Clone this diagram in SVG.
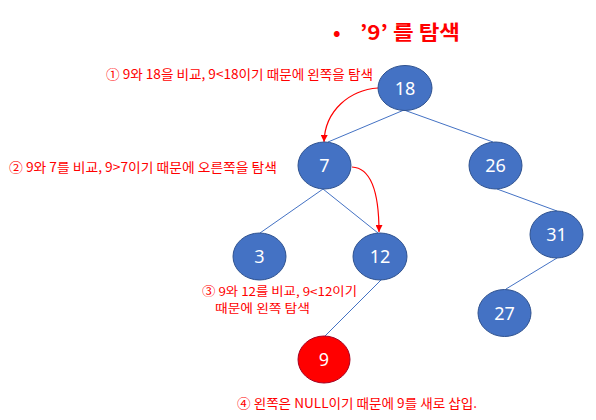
<svg xmlns="http://www.w3.org/2000/svg" width="596" height="420" viewBox="0 0 596 420">
  <defs>
    <marker id="arr" viewBox="0 0 10 10" refX="10" refY="5" markerWidth="7" markerHeight="7" orient="auto" markerUnits="userSpaceOnUse">
      <path d="M0,0 L10,5 L0,10 z" fill="#FF0000"/>
    </marker>
    <style>
      .node { fill: #4472C4; stroke: #2F528F; stroke-width: 1; }
      .new { fill: #FF0000; stroke: #A50021; stroke-width: 1; }
      .lbl { font-family: "Noto Sans", "Liberation Sans", sans-serif; font-size: 18px; fill: #FFFFFF; text-anchor: middle; }
      .edge { stroke: #4472C4; stroke-width: 1; fill: none; }
      .path { stroke: #FF0000; stroke-width: 1.2; fill: none; marker-end: url(#arr); }
      .note { font-family: "Noto Sans CJK KR", "Noto Sans", sans-serif; font-size: 13px; fill: #FF0000; }
      .small { font-size: 12px; }
      .title { font-family: "Noto Sans CJK KR", "Noto Sans", sans-serif; font-size: 20px; font-weight: bold; fill: #FF0000; }
    </style>
  </defs>
  <rect width="596" height="420" fill="#FFFFFF"/>

  <g id="title">
    <text class="title" x="333" y="40">•</text>
    <text class="title" x="360" y="40" textLength="100" lengthAdjust="spacingAndGlyphs">’9’ 를 탐색</text>
  </g>

  <g id="connectors">
    <line class="edge" x1="404" y1="110" x2="328" y2="142"/>
    <line class="edge" x1="404" y1="110" x2="493" y2="142"/>
    <line class="edge" x1="323" y1="189" x2="260" y2="233"/>
    <line class="edge" x1="323" y1="189" x2="378" y2="233"/>
    <line class="edge" x1="497" y1="189" x2="557" y2="211"/>
    <line class="edge" x1="557" y1="258" x2="506" y2="289"/>
    <line class="edge" x1="382" y1="279" x2="325" y2="336"/>
    <path class="path" d="M378,88 C350,90 325,110 324,142"/>
    <path class="path" d="M352,167 C372,168 379,195 379,232"/>
  </g>

  <g id="node-18">
    <ellipse class="node" cx="405" cy="88" rx="27" ry="22.5"/>
    <text class="lbl" x="405" y="94.5">18</text>
  </g>
  <g id="node-7">
    <ellipse class="node" cx="324.5" cy="165.5" rx="26.5" ry="23.5"/>
    <text class="lbl" x="324.5" y="172">7</text>
  </g>
  <g id="node-26">
    <ellipse class="node" cx="495.5" cy="165.5" rx="26.5" ry="23.5"/>
    <text class="lbl" x="495.5" y="172">26</text>
  </g>
  <g id="node-3">
    <ellipse class="node" cx="259.5" cy="256.5" rx="26.5" ry="23.5"/>
    <text class="lbl" x="259.5" y="263">3</text>
  </g>
  <g id="node-12">
    <ellipse class="node" cx="380" cy="256.5" rx="27" ry="23.5"/>
    <text class="lbl" x="380" y="263">12</text>
  </g>
  <g id="node-31">
    <ellipse class="node" cx="556.5" cy="234.5" rx="26.5" ry="23.5"/>
    <text class="lbl" x="556.5" y="241">31</text>
  </g>
  <g id="node-27">
    <ellipse class="node" cx="504.5" cy="313" rx="26.5" ry="23.5"/>
    <text class="lbl" x="504.5" y="319.5">27</text>
  </g>
  <g id="node-9">
    <ellipse class="new" cx="324" cy="359.5" rx="26" ry="23.5"/>
    <text class="lbl" x="324" y="366">9</text>
  </g>

  <g id="notes">
    <text class="note" x="106" y="79" textLength="267" lengthAdjust="spacingAndGlyphs">① 9와 18을 비교, 9&lt;18이기 때문에 왼쪽을 탐색</text>
    <text class="note" x="9" y="172" textLength="268" lengthAdjust="spacingAndGlyphs">② 9와 7를 비교, 9&gt;7이기 때문에 오른쪽을 탐색</text>
    <text class="note small" x="202" y="295.5" textLength="155" lengthAdjust="spacingAndGlyphs">③ 9와 12를 비교, 9&lt;12이기</text>
    <text class="note small" x="215" y="313" textLength="95" lengthAdjust="spacingAndGlyphs">때문에 왼쪽 탐색</text>
    <text class="note" x="237" y="408" textLength="240" lengthAdjust="spacingAndGlyphs">④ 왼쪽은 NULL이기 때문에 9를 새로 삽입.</text>
  </g>
</svg>
